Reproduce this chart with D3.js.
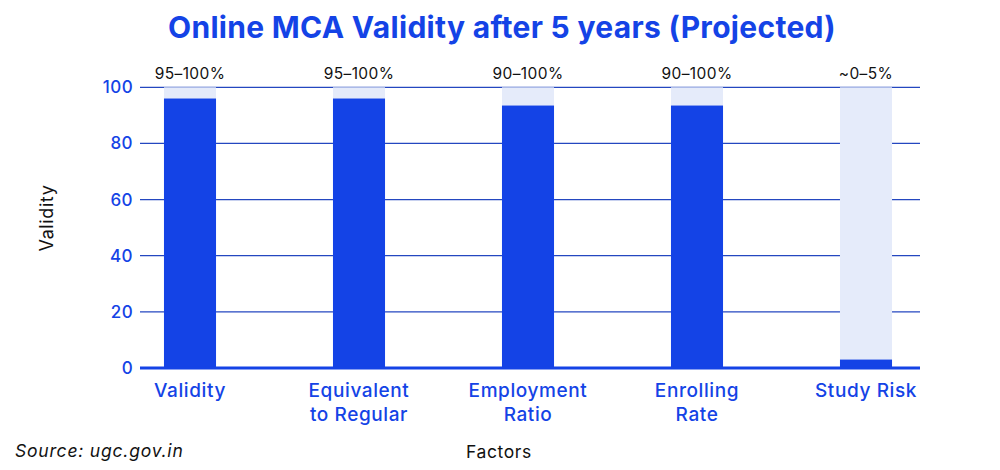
<!DOCTYPE html>
<html>
<head>
<meta charset="utf-8">
<script src="https://cdn.jsdelivr.net/npm/d3@7"></script>
<style>
  body { margin: 0; background: #fff; }
  svg { display: block; font-family: Inter, "Open Sans", sans-serif; }
</style>
</head>
<body>
<script>
// values
var factors = [['Validity'], ['Equivalent', 'to Regular'], ['Employment', 'Ratio'], ['Enrolling', 'Rate'], ['Study Risk']];
var validity = [96, 96, 93.5, 93.5, 3];
var rangeLabels = ['95–100%', '95–100%', '90–100%', '90–100%', '~0–5%'];
var yTicks = [0, 20, 40, 60, 80, 100];

var BLUE = '#1443e6';
var PALE = '#e5ebfa';
var GRID = '#2447c0';

var width = 1000, height = 470;
var plotLeft = 140, plotRight = 920;

var svg = d3.select('body').append('svg')
    .attr('width', width)
    .attr('height', height);

var keys = factors.map(function(d, i) { return i; });

var x = d3.scaleBand()
    .domain(keys)
    .range([105.5, 950.5])
    .paddingInner(0.692)
    .paddingOuter(0.346);

var y = d3.scaleLinear()
    .domain([0, 100])
    .range([368, 87.3]);

// title
svg.append('text')
    .attr('x', 502)
    .attr('y', 38)
    .attr('text-anchor', 'middle')
    .attr('fill', BLUE)
    .attr('font-size', 30)
    .attr('font-weight', 700)
    .attr('letter-spacing', 0.3)
    .text('Online MCA Validity after 5 years (Projected)');

// gridlines
svg.append('g')
    .selectAll('line')
    .data(yTicks.slice(1))
    .enter()
    .append('line')
    .attr('x1', plotLeft)
    .attr('x2', plotRight)
    .attr('y1', function(d) { return y(d); })
    .attr('y2', function(d) { return y(d); })
    .attr('stroke', GRID)
    .attr('stroke-width', 1.2);

// y axis labels
var yAxis = d3.axisLeft(y).tickValues(yTicks).tickSize(0).tickPadding(7);
var yg = svg.append('g')
    .attr('transform', 'translate(' + plotLeft + ',0)')
    .call(yAxis);
yg.select('.domain').remove();
yg.selectAll('text')
    .attr('fill', BLUE)
    .attr('font-size', 17)
    .attr('font-weight', 500)
    .attr('letter-spacing', 0.4)
    .attr('font-family', 'Inter, sans-serif');

// background bars (full range)
svg.append('g')
    .selectAll('rect')
    .data(keys)
    .enter()
    .append('rect')
    .attr('x', function(d) { return x(d); })
    .attr('y', y(100))
    .attr('width', x.bandwidth())
    .attr('height', y(0) - y(100))
    .attr('fill', PALE);

// value bars
svg.append('g')
    .selectAll('rect')
    .data(keys)
    .enter()
    .append('rect')
    .attr('x', function(d) { return x(d); })
    .attr('y', function(d) { return y(validity[d]); })
    .attr('width', x.bandwidth())
    .attr('height', function(d) { return y(0) - y(validity[d]); })
    .attr('fill', BLUE);

// range labels above bars
svg.append('g')
    .selectAll('text')
    .data(keys)
    .enter()
    .append('text')
    .attr('x', function(d) { return x(d) + x.bandwidth() / 2; })
    .attr('y', 79)
    .attr('text-anchor', 'middle')
    .attr('font-size', 15.5)
    .attr('letter-spacing', 0.4)
    .attr('fill', '#111')
    .text(function(d) { return rangeLabels[d]; });

// baseline
svg.append('line')
    .attr('x1', plotLeft)
    .attr('x2', plotRight)
    .attr('y1', y(0))
    .attr('y2', y(0))
    .attr('stroke', BLUE)
    .attr('stroke-width', 3);

// category labels
var cat = svg.append('g')
    .selectAll('text')
    .data(keys)
    .enter()
    .append('text')
    .attr('x', function(d) { return x(d) + x.bandwidth() / 2; })
    .attr('y', 397)
    .attr('text-anchor', 'middle')
    .attr('font-size', 19)
    .attr('font-weight', 500)
    .attr('letter-spacing', 0.6)
    .attr('fill', BLUE);
cat.selectAll('tspan')
    .data(function(d) { return factors[d]; })
    .enter()
    .append('tspan')
    .attr('x', function() { return d3.select(this.parentNode).attr('x'); })
    .attr('dy', function(d, i) { return i === 0 ? 0 : 24; })
    .text(function(d) { return d; });

// axis titles
svg.append('text')
    .attr('transform', 'translate(53,218) rotate(-90)')
    .attr('text-anchor', 'middle')
    .attr('font-size', 18)
    .attr('letter-spacing', 0.6)
    .attr('fill', '#111')
    .text('Validity');

svg.append('text')
    .attr('x', 499)
    .attr('y', 458)
    .attr('text-anchor', 'middle')
    .attr('font-size', 17.5)
    .attr('letter-spacing', 0.6)
    .attr('fill', '#111')
    .text('Factors');

svg.append('text')
    .attr('x', 15)
    .attr('y', 457)
    .attr('font-size', 17.5)
    .attr('font-style', 'italic')
    .attr('letter-spacing', 0.8)
    .attr('fill', '#111')
    .text('Source: ugc.gov.in');
</script>
</body>
</html>
